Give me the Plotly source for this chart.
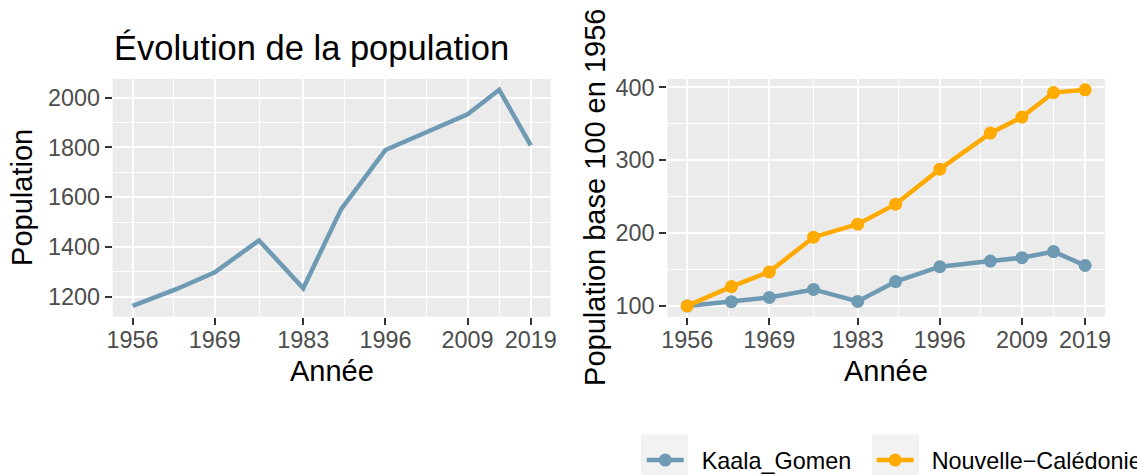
import plotly.graph_objects as go

# ---------------- data ----------------
years = [1956, 1963, 1969, 1976, 1983, 1989, 1996, 2004, 2009, 2014, 2019]
population_kaala = [1163, 1231, 1298, 1426, 1234, 1552, 1789, 1879, 1933, 2031, 1808]
index_kaala = [100, 105.8, 111.6, 122.6, 106.1, 133.4, 153.8, 161.6, 166.2, 174.6, 155.5]
index_nc = [100, 126.5, 146.7, 194.4, 212.2, 239.7, 287.8, 337.3, 359.3, 393.0, 396.8]
series_names = ["Kaala_Gomen", "Nouvelle\u2212Calédonie"]
x_ticks = [1956, 1969, 1983, 1996, 2009, 2019]
x_minor = [1962.5, 1976, 1989.5, 2002.5, 2014]
y1_ticks = [1200, 1400, 1600, 1800, 2000]
y1_minor = [1300, 1500, 1700, 1900]
y2_ticks = [100, 200, 300, 400]
y2_minor = [150, 250, 350]

title_text = "Évolution de la population"
x_title = "Année"
y1_title = "Population"
y2_title = "Population base 100 en 1956"

# ---------------- style ----------------
BLUE = "#6f9ab3"
ORANGE = "#ffaa00"
PANEL = "#ebebeb"
FONT = "Liberation Sans, Arial, sans-serif"
W, H = 1137, 475
NB = "\u00a0"

def px_x(p):
    return p / W

def px_y(p):
    return 1 - p / H

fig = go.Figure()

fig.add_trace(go.Scatter(x=years, y=population_kaala, mode="lines",
                         line=dict(color=BLUE, width=4.5), showlegend=False,
                         xaxis="x", yaxis="y", name=series_names[0]))
fig.add_trace(go.Scatter(x=years, y=index_kaala, mode="lines+markers",
                         line=dict(color=BLUE, width=4.5),
                         marker=dict(color=BLUE, size=13),
                         xaxis="x2", yaxis="y2", name=NB * 2 + series_names[0],
                         legend="legend"))
fig.add_trace(go.Scatter(x=years, y=index_nc, mode="lines+markers",
                         line=dict(color=ORANGE, width=4.5),
                         marker=dict(color=ORANGE, size=13),
                         xaxis="x2", yaxis="y2", name=NB * 2 + series_names[1],
                         legend="legend2"))

def exp_range(vals, f=0.05):
    lo, hi = min(vals), max(vals)
    d = (hi - lo) * f
    return [lo - d, hi + d]

xr = exp_range(years)
y1r = exp_range(population_kaala)
y2r = exp_range(index_kaala + index_nc)

ydom = [px_y(316.7), px_y(79)]

common_axis = dict(
    showline=False, zeroline=False,
    showgrid=True, gridcolor="white", gridwidth=2,
    ticks="outside", ticklen=7, tickwidth=2, tickcolor="#333333",
    tickfont=dict(family=FONT, size=23.4, color="#4d4d4d"),
)

def minor(vals):
    return dict(tickvals=vals, showgrid=True, gridcolor="white", gridwidth=1, ticks="")

legend_common = dict(orientation="h", xanchor="left", yanchor="middle",
                     y=px_y(460.4),
                     font=dict(family=FONT, size=23.4, color="black"),
                     bgcolor="rgba(0,0,0,0)", itemwidth=37)

fig.update_layout(
    xaxis=dict(domain=[px_x(112.7), px_x(550.7)], range=xr, anchor="y",
               tickmode="array", tickvals=x_ticks, minor=minor(x_minor),
               ticklabelstandoff=-5, **common_axis),
    yaxis=dict(domain=ydom, range=y1r, anchor="x",
               tickmode="array", tickvals=y1_ticks, minor=minor(y1_minor),
               ticklabelstandoff=0, **common_axis),
    xaxis2=dict(domain=[px_x(667.3), px_x(1105)], range=xr, anchor="y2",
                tickmode="array", tickvals=x_ticks, minor=minor(x_minor),
                ticklabelstandoff=-5, **common_axis),
    yaxis2=dict(domain=ydom, range=y2r, anchor="x2",
                tickmode="array", tickvals=y2_ticks, minor=minor(y2_minor),
                ticklabelstandoff=0, **common_axis),
    plot_bgcolor=PANEL,
    paper_bgcolor="white",
    width=W, height=H,
    margin=dict(l=0, r=0, t=0, b=0, autoexpand=False),
    font=dict(family=FONT, color="black"),
    showlegend=True,
    legend=dict(x=px_x(641.7), **legend_common),
    legend2=dict(x=px_x(871.7), **legend_common),
)

# legend key backgrounds
for x0 in (641, 872):
    fig.add_shape(type="rect", xref="paper", yref="paper",
                  x0=px_x(x0), x1=px_x(x0 + 47), y0=px_y(490), y1=px_y(434.4),
                  fillcolor="#f2f2f2", line=dict(width=0), layer="below")

annotations = [
    dict(text=title_text, x=px_x(112), y=px_y(61), xanchor="left", yanchor="bottom",
         font=dict(family=FONT, size=34.5, color="black"), yshift=-8),
    dict(text=x_title, x=(px_x(112.7) + px_x(550.7)) / 2, y=px_y(371), xanchor="center", yanchor="middle",
         font=dict(family=FONT, size=29, color="black")),
    dict(text=x_title, x=(px_x(667.3) + px_x(1105)) / 2, y=px_y(371), xanchor="center", yanchor="middle",
         font=dict(family=FONT, size=29, color="black")),
    dict(text=y1_title, x=px_x(22), y=px_y(197.9), xanchor="center", yanchor="middle", textangle=-90,
         font=dict(family=FONT, size=29, color="black")),
    dict(text=y2_title, x=px_x(595), y=px_y(197.9), xanchor="center", yanchor="middle", textangle=-90,
         font=dict(family=FONT, size=29, color="black")),
]
for a in annotations:
    a.update(xref="paper", yref="paper", showarrow=False)
fig.update_layout(annotations=annotations)

fig.write_html("out.html", config={"displayModeBar": False},
               post_script="document.body.style.margin='0px';document.body.style.padding='0px';")
